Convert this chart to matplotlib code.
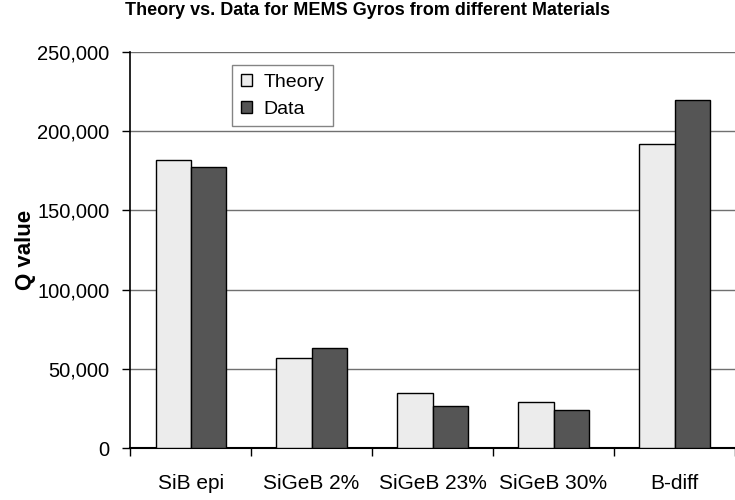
import numpy as np
import matplotlib
matplotlib.use('Agg')
from matplotlib import pyplot as plt
from matplotlib.ticker import FuncFormatter

plt.rcParams['font.family'] = ['Liberation Sans', 'DejaVu Sans']

materials = ['SiB epi', 'SiGeB 2%', 'SiGeB 23%', 'SiGeB 30%', 'B-diff']
theory = [182000, 57000, 35000, 29000, 192000]
data = [177500, 63000, 26800, 23700, 219500]

fig = plt.figure(figsize=(7.35, 5), dpi=100)
ax = fig.add_axes([0.177, 0.104, 0.823, 0.792])

x = np.arange(len(materials))
w = 0.29
ax.bar(x - w / 2, theory, w, color='#ececec', edgecolor='black', linewidth=1, label='Theory', zorder=3)
ax.bar(x + w / 2, data, w, color='#555555', edgecolor='black', linewidth=1, label='Data', zorder=3)

ax.set_xlim(-0.5, len(materials) - 0.5)
ax.set_ylim(0, 250000)
ax.set_yticks(np.arange(0, 250001, 50000))
ax.yaxis.set_major_formatter(FuncFormatter(lambda v, p: f'{int(v):,}'))
ax.grid(axis='y', color='#707070', linewidth=1, zorder=0)

ax.set_xticks(x)
ax.set_xticklabels(materials)
ax.set_xticks(np.arange(-0.5, len(materials)), minor=True)
ax.tick_params(axis='x', which='major', length=0, pad=19, labelsize=15)
ax.tick_params(axis='x', which='minor', length=6, width=1, direction='out')
ax.tick_params(axis='y', length=6, width=1, direction='out', labelsize=14.5, pad=9)

for s in ['top', 'right']:
    ax.spines[s].set_visible(False)
ax.spines['left'].set_linewidth(1.2)
ax.spines['bottom'].set_linewidth(1.5)

ax.set_ylabel('Q value', fontsize=16, fontweight='bold', labelpad=1)
fig.text(0.5, 1 - 15 / 500, 'Theory vs. Data for MEMS Gyros from different Materials',
         ha='center', va='baseline', fontsize=13, fontweight='bold')

leg = ax.legend(loc='upper left', bbox_to_anchor=(0.169, 0.967), frameon=True, fancybox=False,
                edgecolor='#666666', fontsize=14, handlelength=0.55, handleheight=0.55,
                handletextpad=0.6, borderpad=0.45, borderaxespad=0, labelspacing=0.5)
leg.get_frame().set_linewidth(1)

fig.savefig('out.png', dpi=100)
